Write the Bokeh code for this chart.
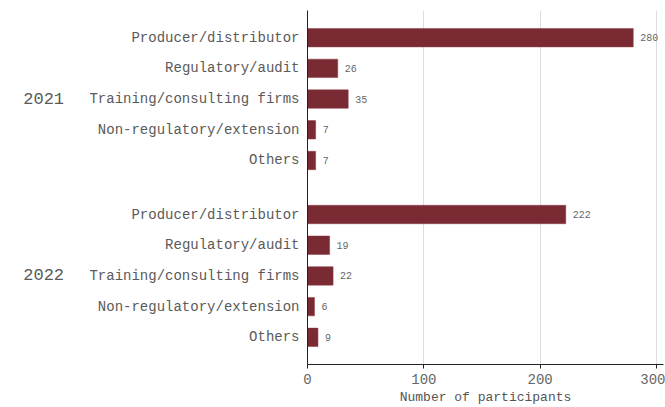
from bokeh.plotting import figure
from bokeh.models import FactorRange, ColumnDataSource, Range1d, FixedTicker
from bokeh.embed import file_html
from bokeh.resources import INLINE

years = ["2021", "2022"]
categories = ["Producer/distributor", "Regulatory/audit", "Training/consulting firms",
              "Non-regulatory/extension", "Others"]
values_2021 = [280, 26, 35, 7, 7]
values_2022 = [222, 19, 22, 6, 9]
x_ticks = [0, 100, 200, 300]

FONT = "Courier New, Liberation Mono, monospace"
PAD = "\u00a0\u00a0"  # non-breaking spaces widen the year column

factors = []
vals = []
for yr, vs in zip(years, [values_2021, values_2022]):
    for c, v in zip(categories, vs):
        factors.append((yr + PAD, c))
        vals.append(v)

src = ColumnDataSource(dict(y=factors, v=vals, lbl=[str(v) for v in vals]))

yrange = FactorRange(*list(reversed(factors)), group_padding=0.76,
                     range_padding=0.385, range_padding_units="absolute")

p = figure(width=665, height=407, y_range=yrange, x_range=Range1d(0, 306),
           output_backend="svg", toolbar_location=None,
           min_border_left=307, min_border_right=2, min_border_top=10, min_border_bottom=43)

p.hbar(y="y", right="v", left=0, height=0.6, source=src,
       fill_color="#7a2a33", line_color="#8a3a43", line_width=0.5)

p.text(x="v", y="y", text="lbl", source=src, x_offset=7,
       text_baseline="middle", text_align="left",
       text_font_size="10px", text_color="#666666", text_font={"value": FONT})

p.outline_line_color = None
p.ygrid.grid_line_color = None
p.xgrid.grid_line_color = "#dddddd"
p.xgrid.ticker = FixedTicker(ticks=x_ticks)

p.xaxis.ticker = FixedTicker(ticks=x_ticks)
p.xaxis.axis_label = "Number of participants"
p.xaxis.axis_label_text_font = FONT
p.xaxis.axis_label_text_font_style = "normal"
p.xaxis.axis_label_text_font_size = "13px"
p.xaxis.axis_label_text_color = "#555555"
p.xaxis.major_label_text_font = FONT
p.xaxis.major_label_text_font_size = "14px"
p.xaxis.major_label_text_color = "#666666"
p.xaxis.major_label_standoff = 5
p.xaxis.axis_line_color = "#222222"
p.xaxis.major_tick_line_color = "#222222"
p.xaxis.major_tick_out = 4
p.xaxis.major_tick_in = 0
p.xaxis.minor_tick_line_color = None
p.xaxis.axis_label_standoff = 3

ya = p.yaxis[0]
ya.axis_line_color = "#222222"
ya.major_tick_line_color = None
ya.minor_tick_line_color = None
ya.major_label_text_font = FONT
ya.major_label_text_font_size = "14px"
ya.major_label_text_color = "#5a5a5a"
ya.major_label_standoff = 2
ya.group_text_font = FONT
ya.group_text_font_size = "17px"
ya.group_text_color = "#5a5a5a"
ya.group_text_font_style = "normal"
ya.group_label_orientation = "horizontal"
ya.separator_line_alpha = 0

open("out.html", "w").write(file_html(p, INLINE))
